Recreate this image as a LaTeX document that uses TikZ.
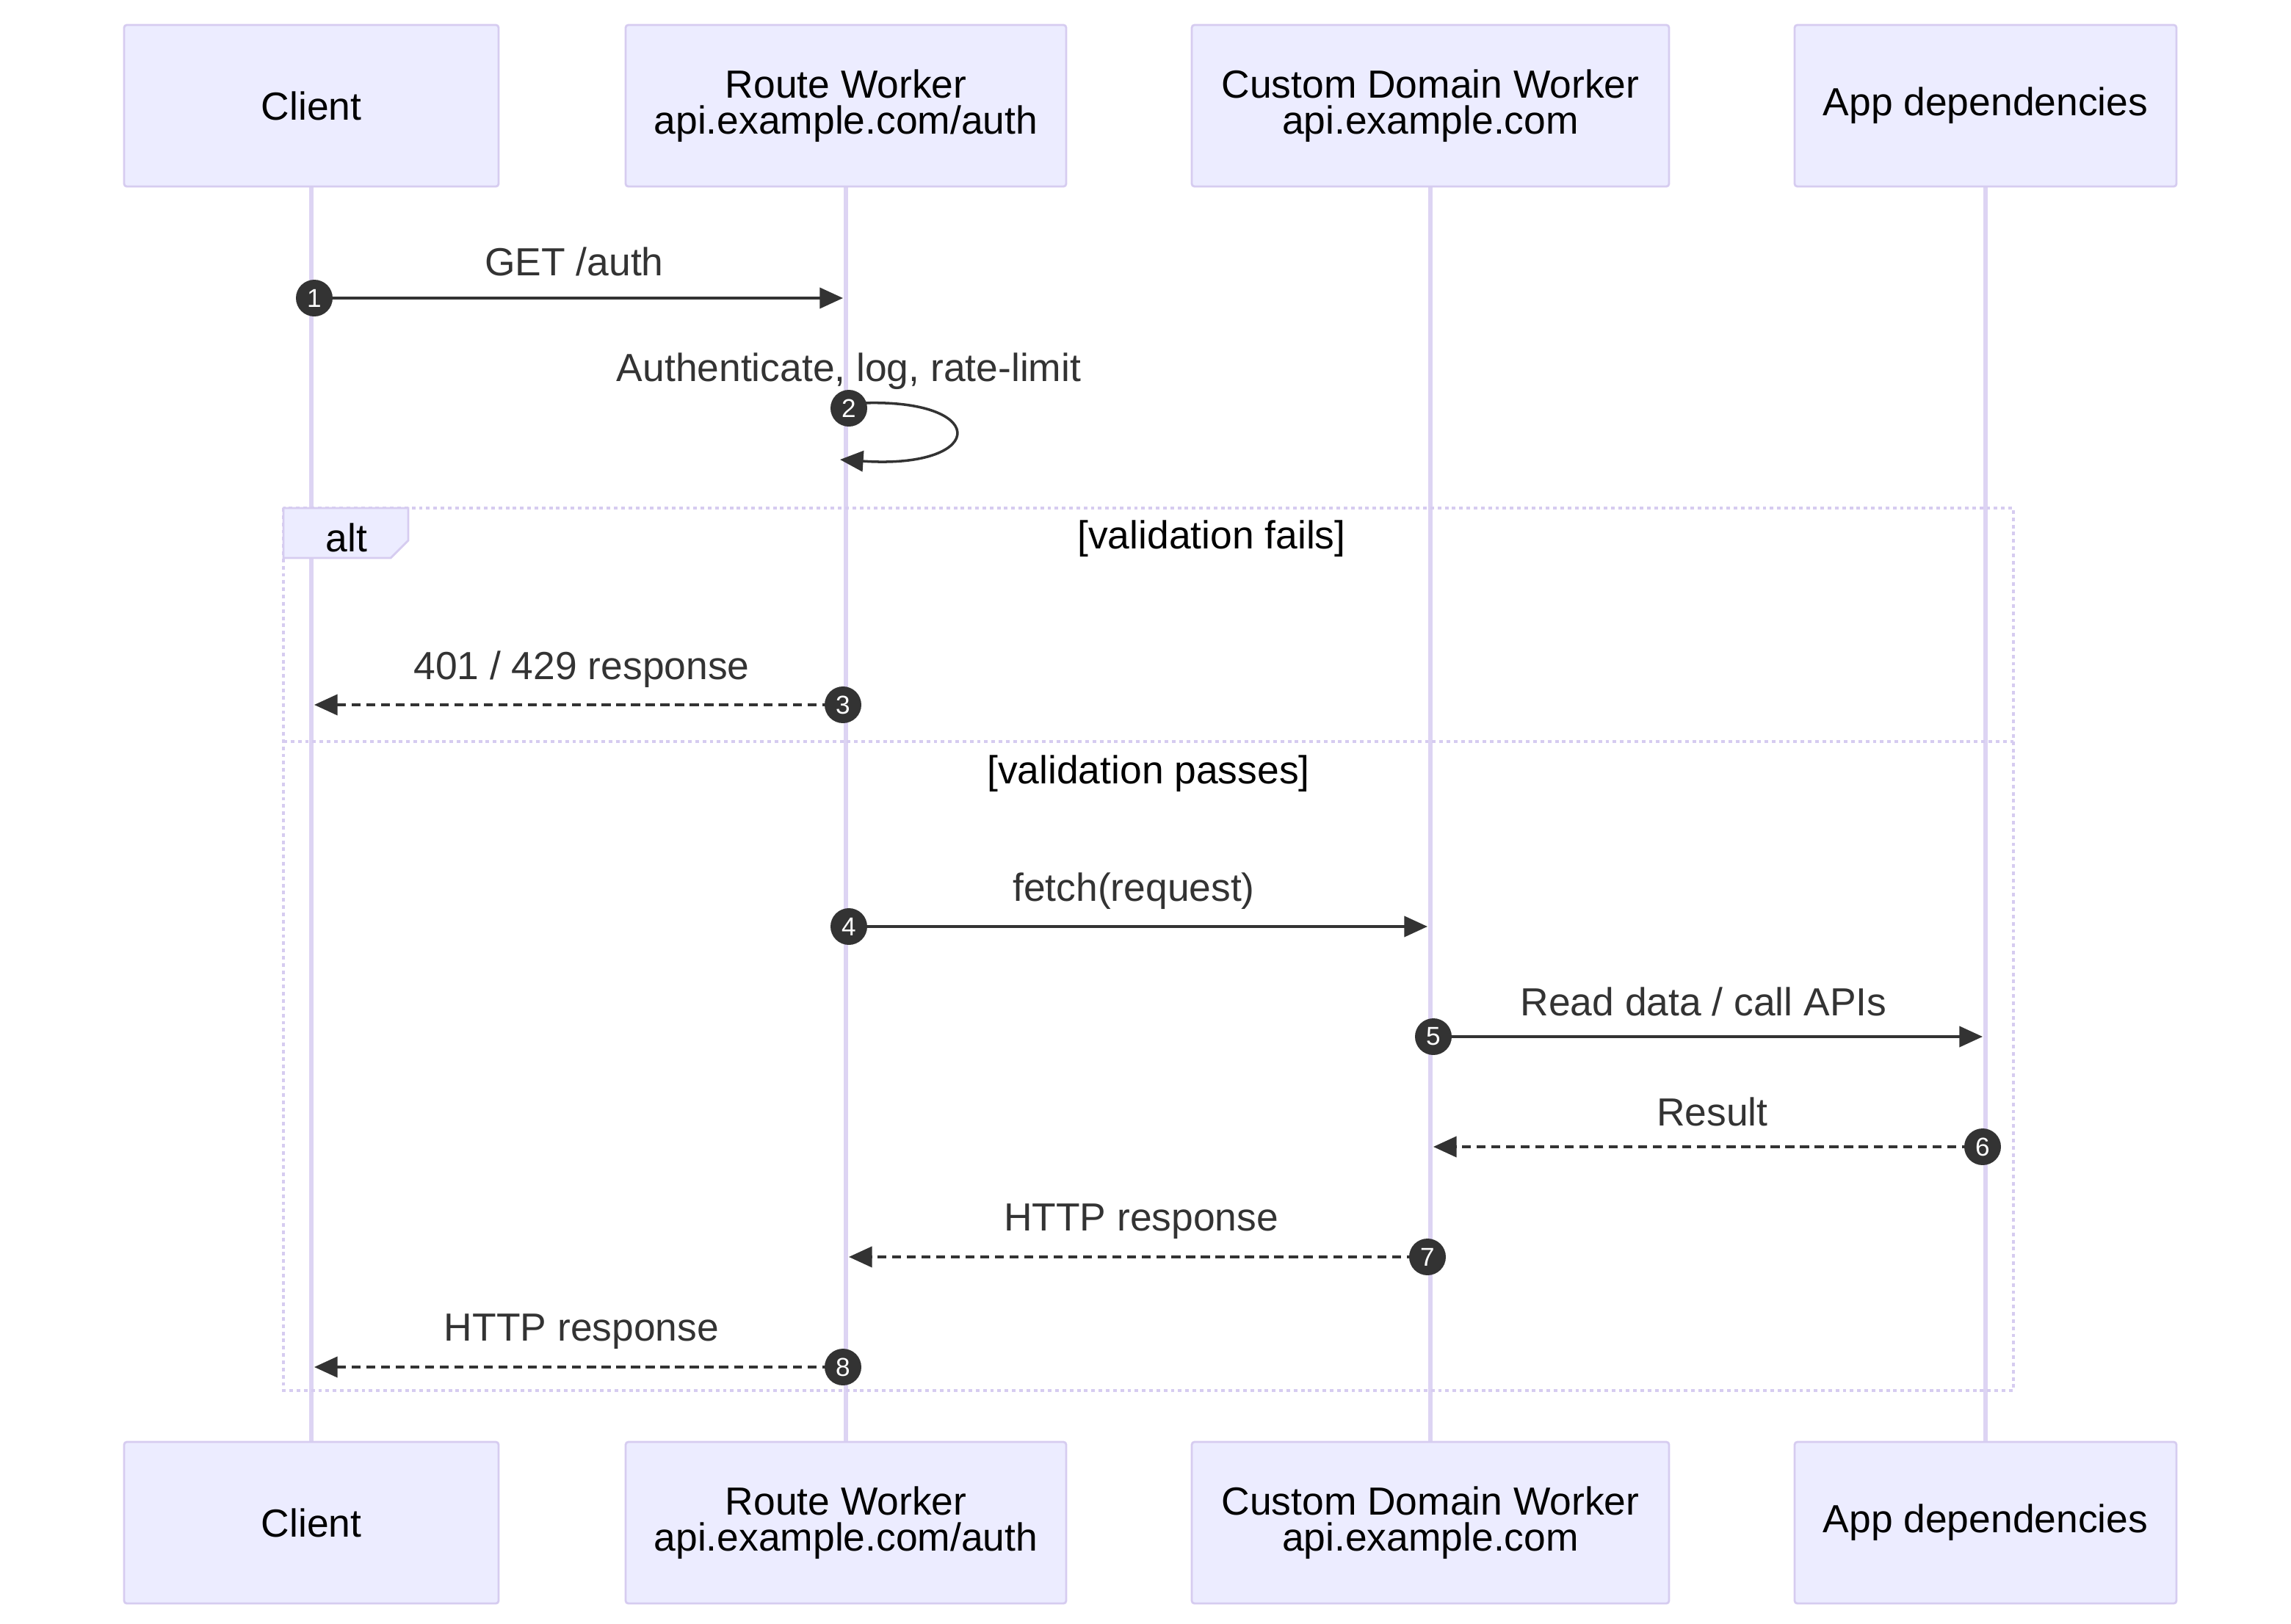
\documentclass[tikz,border=0pt]{standalone}
\usepackage{fontspec}
\setmainfont{Liberation Sans}
\usetikzlibrary{arrows.meta}
\definecolor{actfill}{HTML}{ECECFF}
\definecolor{actdraw}{HTML}{D6CCF0}
\definecolor{life}{HTML}{DDD4F3}
\definecolor{txt}{HTML}{333333}
\begin{document}
\begin{tikzpicture}[x=0.02cm,y=-0.02cm,
  actor/.style={draw=actdraw,fill=actfill,line width=0.8pt,rounded corners=1pt,minimum height=2.2cm,align=center,font=\fontsize{15.2}{14}\selectfont,text=black,inner sep=0pt},
  lifeline/.style={draw=life,line width=1.6pt},
  msg/.style={draw=txt,line width=1pt,-{Triangle[length=9pt,width=8pt]}},
  rmsg/.style={msg,dash pattern=on 3.5pt off 2.2pt},
  num/.style={circle,fill=txt,text=white,inner sep=0pt,minimum size=0.5cm,font=\fontsize{10}{10}\selectfont},
  lbl/.style={text=txt,font=\fontsize{15.2}{14}\selectfont},
  frame/.style={draw=actdraw,line width=1.4pt,dash pattern=on 1.4pt off 1.4pt}]
\useasboundingbox (0,0) rectangle (1560,1106);
% lifelines
\foreach \x/\n in {212/a,576/b,974/c,1352/d}{
  \coordinate (\n t) at (\x,127); \coordinate (\n b) at (\x,983);
  \draw[lifeline] (\n t) -- (\n b);}
% actors
\foreach \y/\s in {72/t,1037/b}{
\node[actor,minimum width=5.1cm] (cl\s) at (212,\y) {Client};
\node[actor,minimum width=6cm] (rw\s) at (576,\y) {Route Worker\\api.example.com/auth};
\node[actor,minimum width=6.5cm] (cd\s) at (974,\y) {Custom Domain Worker\\api.example.com};
\node[actor,minimum width=5.2cm] (ad\s) at (1352,\y) {App dependencies};
}
% alt frame
\draw[frame] (193,346) rectangle (1371,947);
\draw[frame] (193,505) -- (1371,505);
\draw[draw=actdraw,fill=actfill,line width=0.8pt] (193,346) -- (278,346) -- (278,368) -- (266,380) -- (193,380) -- cycle;
\node[font=\fontsize{15.2}{14}\selectfont] (alt) at (236,366) {alt};
\node[font=\fontsize{15.2}{14}\selectfont] (vf) at (825,367) {[validation fails]};
\node[font=\fontsize{15.2}{14}\selectfont] (vp) at (782,527) {[validation passes]};
% messages
\coordinate (m1a) at (212,203); \coordinate (m1b) at (574,203);
\draw[msg] (m1a) -- (m1b);
\node[num] (n1) at (214,203) {1};
\node[lbl] (l1) at (391,178) {GET /auth};
% self
\coordinate (s1) at (578,275); \coordinate (s2) at (572,313);
\node[lbl] (l2) at (578,253) {Authenticate, log, rate-limit};
\draw[msg] (s1) .. controls (675,268) and (675,320) .. (s2);
\node[num] (n2) at (578,278) {2};
% 3
\coordinate (m3a) at (576,480); \coordinate (m3b) at (214,480);
\draw[rmsg] (m3a) -- (m3b);
\node[num] (n3) at (574,480) {3};
\node[lbl] (l3) at (396,456) {401 / 429 response};
% 4
\coordinate (m4a) at (576,631); \coordinate (m4b) at (972,631);
\draw[msg] (m4a) -- (m4b);
\node[num] (n4) at (578,631) {4};
\node[lbl] (l4) at (772,607) {fetch(request)};
% 5
\coordinate (m5a) at (974,706); \coordinate (m5b) at (1350,706);
\draw[msg] (m5a) -- (m5b);
\node[num] (n5) at (976,706) {5};
\node[lbl] (l5) at (1160,682) {Read data / call APIs};
% 6
\coordinate (m6a) at (1352,781); \coordinate (m6b) at (976,781);
\draw[rmsg] (m6a) -- (m6b);
\node[num] (n6) at (1350,781) {6};
\node[lbl] (l6) at (1166,757) {Result};
% 7
\coordinate (m7a) at (974,856); \coordinate (m7b) at (578,856);
\draw[rmsg] (m7a) -- (m7b);
\node[num] (n7) at (972,856) {7};
\node[lbl] (l7) at (777,832) {HTTP response};
% 8
\coordinate (m8a) at (576,931); \coordinate (m8b) at (214,931);
\draw[rmsg] (m8a) -- (m8b);
\node[num] (n8) at (574,931) {8};
\node[lbl] (l8) at (396,907) {HTTP response};
\end{tikzpicture}
\end{document}
